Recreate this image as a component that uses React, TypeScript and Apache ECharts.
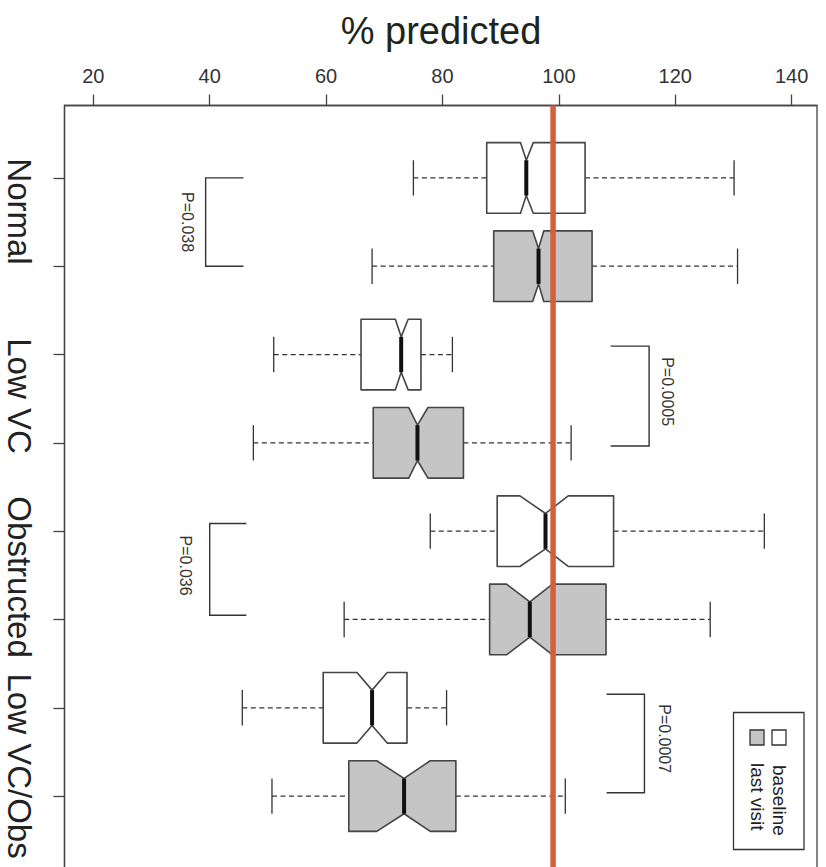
import React, { useEffect, useRef } from "react";
import * as echarts from "echarts";

const FONT = "'Liberation Sans', Arial, Helvetica, sans-serif";

const groups = ["Normal", "Low VC", "Obstructed", "Low VC/Obs"];
const xTicks = [20, 40, 60, 80, 100, 120, 140];
const groupTickPositions = [1, 2, 3, 4, 5, 6, 7, 8];
const groupLabelPositions = [1.38, 3.47, 5.52, 7.66];

// [whiskerLow, q1, notchLow, median, notchHigh, q3, whiskerHigh]
const baseline = [
  [75.0, 87.6, 93.4, 94.4, 95.6, 104.5, 130.1],
  [51.0, 66.0, 71.9, 72.9, 74.1, 76.3, 81.7],
  [77.9, 89.4, 93.3, 97.7, 101.6, 109.4, 135.3],
  [45.6, 59.5, 65.3, 67.9, 70.5, 73.9, 80.7],
];
const lastVisit = [
  [67.9, 88.8, 95.5, 96.5, 97.4, 105.7, 130.7],
  [47.5, 68.1, 74.2, 75.7, 77.5, 83.6, 102.1],
  [63.1, 88.1, 91.0, 95.0, 98.9, 108.1, 126.0],
  [50.7, 63.9, 68.7, 73.4, 77.9, 82.3, 101.1],
];

const referenceValue = 99;

const pLabels = ["P=0.038", "P=0.0005", "P=0.036", "P=0.0007"];
const pLabelX = [36.2, 118.7, 35.8, 118.2];
const pLabelPos = [1.5, 3.42, 5.39, 7.35];

const bracketVertX = [39.3, 115.5, 40.0, 114.7];
const bracketEndX = [45.8, 108.9, 46.3, 108.2];
const bracketTop = [1.0, 2.905, 4.914, 6.847];
const bracketBottom = [2.0, 4.035, 5.952, 7.963];

const legendNames = ["baseline", "last visit"];

const BOX_STROKE = "#454545";
const GRAY_FILL = "#c5c5c5";
const RED = "#d4603a";

function makeBoxRender(fill: string) {
  return (params: any, api: any) => {
    const pos = api.value(0);
    const wlo = api.value(1);
    const q1 = api.value(2);
    const nlo = api.value(3);
    const med = api.value(4);
    const nhi = api.value(5);
    const q3 = api.value(6);
    const whi = api.value(7);
    const h = Math.abs(api.size([0, 0.8])[1]) / 2;
    const P = (x: number) => api.coord([x, pos]);
    const cy = P(med)[1];
    const X = (x: number) => P(x)[0];
    const dashStyle = { stroke: "#333", lineWidth: 1.3, lineDash: [5, 3.5] };
    const solid = { stroke: "#333", lineWidth: 1.3 };
    const children: any[] = [
      { type: "line", shape: { x1: X(wlo), y1: cy, x2: X(q1), y2: cy }, style: dashStyle },
      { type: "line", shape: { x1: X(q3), y1: cy, x2: X(whi), y2: cy }, style: dashStyle },
      { type: "line", shape: { x1: X(wlo), y1: cy - h / 2, x2: X(wlo), y2: cy + h / 2 }, style: solid },
      { type: "line", shape: { x1: X(whi), y1: cy - h / 2, x2: X(whi), y2: cy + h / 2 }, style: solid },
      {
        type: "polygon",
        shape: {
          points: [
            [X(q1), cy - h],
            [X(nlo), cy - h],
            [X(med), cy - h / 2],
            [X(nhi), cy - h],
            [X(q3), cy - h],
            [X(q3), cy + h],
            [X(nhi), cy + h],
            [X(med), cy + h / 2],
            [X(nlo), cy + h],
            [X(q1), cy + h],
          ],
        },
        style: { fill, stroke: BOX_STROKE, lineWidth: 1.6, lineJoin: "round" },
      },
      {
        type: "line",
        shape: { x1: X(med), y1: cy - h / 2, x2: X(med), y2: cy + h / 2 },
        style: { stroke: "#111", lineWidth: 4 },
      },
    ];
    return { type: "group", children };
  };
}

export default function App() {
  const ref = useRef<HTMLDivElement>(null);

  useEffect(() => {
    document.body.style.margin = "0";
    if (!ref.current) return;
    const chart = echarts.init(ref.current, null, { renderer: "svg" });

    const baselineData = baseline.map((r, i) => [2 * i + 1, ...r]);
    const lastData = lastVisit.map((r, i) => [2 * i + 2, ...r]);
    const bracketData = bracketVertX.map((v, i) => [v, bracketEndX[i], bracketTop[i], bracketBottom[i]]);
    const pData = pLabelX.map((x, i) => [x, pLabelPos[i]]);
    const groupLabelData = groupLabelPositions.map((p) => [15.05, p]);

    const legendX = 733.5;
    const legendY = 712.5;

    chart.setOption({
      animation: false,
      backgroundColor: "#ffffff",
      grid: {
        left: 64.5,
        top: 105.5,
        width: 752.5,
        height: 763,
        show: true,
        borderColor: "#444",
        borderWidth: 1.3,
        backgroundColor: "#ffffff",
        containLabel: false,
        outerBoundsMode: "none",
      },
      xAxis: {
        type: "value",
        position: "top",
        min: 15.05,
        max: 144.35,
        axisLine: { show: true, onZero: false, lineStyle: { color: "#444", width: 1.3 } },
        axisTick: { show: true, length: 11, customValues: xTicks, lineStyle: { color: "#444", width: 1.3 } },
        axisLabel: { customValues: xTicks, fontSize: 20, color: "#333", margin: 20, fontFamily: FONT },
        splitLine: { show: false },
      },
      yAxis: {
        type: "value",
        inverse: true,
        min: 0.18,
        max: 8.82,
        axisLine: { show: true, onZero: false, lineStyle: { color: "#444", width: 1.3 } },
        axisTick: { show: true, length: 11, customValues: groupTickPositions, lineStyle: { color: "#444", width: 1.3 } },
        axisLabel: { show: false },
        splitLine: { show: false },
      },
      series: [
        {
          type: "custom",
          name: "baseline",
          data: baselineData,
          renderItem: makeBoxRender("#ffffff"),
          z: 2,
          silent: true,
        },
        {
          type: "custom",
          name: "last visit",
          data: lastData,
          renderItem: makeBoxRender(GRAY_FILL),
          z: 2,
          silent: true,
        },
        {
          type: "custom",
          name: "groupLabels",
          data: groupLabelData,
          silent: true,
          clip: false,
          z: 3,
          renderItem: (params: any, api: any) => {
            const c = api.coord([api.value(0), api.value(1)]);
            return {
              type: "text",
              x: c[0] - 45.5,
              y: c[1],
              rotation: -Math.PI / 2,
              style: {
                text: groups[params.dataIndex],
                fontSize: 33,
                fontFamily: FONT,
                fill: "#222",
                align: "center",
                verticalAlign: "middle",
                textAlign: "center",
                textVerticalAlign: "middle",
              },
            };
          },
        },
        {
          type: "custom",
          name: "brackets",
          data: bracketData,
          silent: true,
          z: 2,
          renderItem: (params: any, api: any) => {
            const vert = api.value(0);
            const end = api.value(1);
            const top = api.value(2);
            const bot = api.value(3);
            const a = api.coord([end, top]);
            const b = api.coord([vert, top]);
            const c = api.coord([vert, bot]);
            const d = api.coord([end, bot]);
            return {
              type: "polyline",
              shape: { points: [a, b, c, d] },
              style: { stroke: "#333", lineWidth: 1.4, fill: null },
            };
          },
        },
        {
          type: "custom",
          name: "pvalues",
          data: pData,
          silent: true,
          z: 3,
          renderItem: (params: any, api: any) => {
            const c = api.coord([api.value(0), api.value(1)]);
            return {
              type: "text",
              x: c[0],
              y: c[1],
              rotation: -Math.PI / 2,
              style: {
                text: pLabels[params.dataIndex],
                fontSize: 16,
                fontFamily: FONT,
                fill: "#333",
                align: "center",
                verticalAlign: "middle",
                textAlign: "center",
                textVerticalAlign: "middle",
              },
            };
          },
        },
        {
          type: "custom",
          name: "reference",
          data: [[referenceValue]],
          silent: true,
          z: 10,
          renderItem: (params: any, api: any) => {
            const v = api.value(0);
            const a = api.coord([v, 0.18]);
            const b = api.coord([v, 8.82]);
            return {
              type: "line",
              shape: { x1: a[0], y1: a[1], x2: b[0], y2: b[1] },
              style: { stroke: RED, lineWidth: 5.5 },
            };
          },
        },
      ],
      graphic: [
        {
          type: "text",
          x: 441,
          y: 31,
          style: {
            text: "% predicted",
            fontSize: 38,
            fontFamily: FONT,
            fill: "#1c261c",
            align: "center",
            verticalAlign: "middle",
            textAlign: "center",
            textVerticalAlign: "middle",
          },
          z: 20,
        },
        {
          type: "rect",
          shape: { x: legendX, y: legendY, width: 70.5, height: 137 },
          style: { fill: "#ffffff", stroke: "#333", lineWidth: 1.3 },
          z: 20,
        },
        {
          type: "rect",
          shape: { x: 772, y: 730, width: 14, height: 15 },
          style: { fill: "#ffffff", stroke: "#333", lineWidth: 1.3 },
          z: 21,
        },
        {
          type: "rect",
          shape: { x: 750, y: 730, width: 14, height: 15 },
          style: { fill: GRAY_FILL, stroke: "#333", lineWidth: 1.3 },
          z: 21,
        },
        {
          type: "text",
          x: 779,
          y: 765,
          rotation: -Math.PI / 2,
          style: {
            text: legendNames[0],
            fontSize: 19,
            fontFamily: FONT,
            fill: "#222",
            align: "left",
            verticalAlign: "middle",
            textAlign: "left",
            textVerticalAlign: "middle",
          },
          z: 21,
        },
        {
          type: "text",
          x: 757,
          y: 763,
          rotation: -Math.PI / 2,
          style: {
            text: legendNames[1],
            fontSize: 19,
            fontFamily: FONT,
            fill: "#222",
            align: "left",
            verticalAlign: "middle",
            textAlign: "left",
            textVerticalAlign: "middle",
          },
          z: 21,
        },
      ],
    });

    return () => {
      chart.dispose();
    };
  }, []);

  return <div ref={ref} style={{ width: 826, height: 867 }} />;
}
